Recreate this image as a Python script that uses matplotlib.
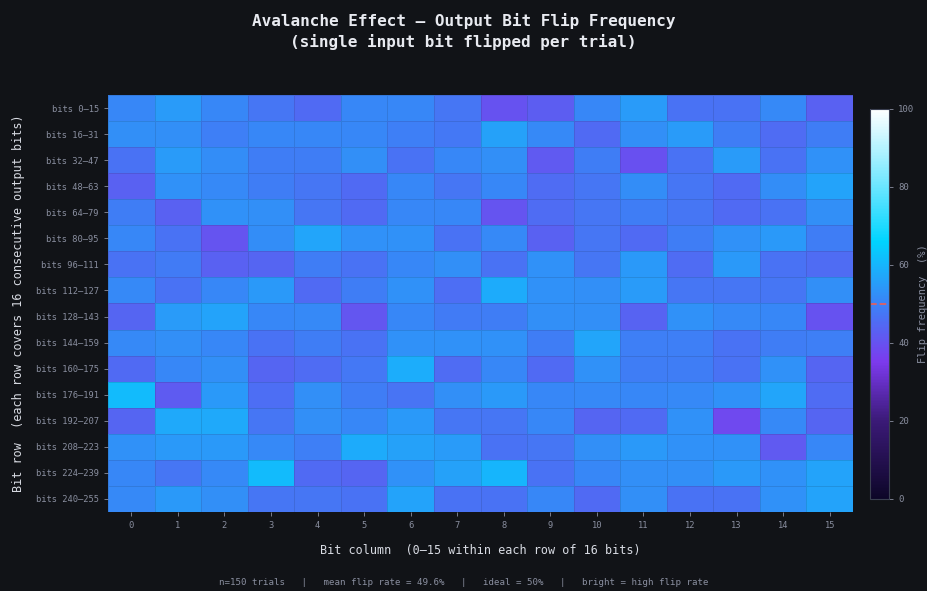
import numpy as np
import matplotlib
matplotlib.use("Agg")
import matplotlib.pyplot as plt
from matplotlib.colors import LinearSegmentedColormap

# flip frequency (%) per output bit, 16 rows x 16 columns
row_labels = [f"bits {i*16}\u2013{i*16+15}" for i in range(16)]
col_labels = [str(i) for i in range(16)]

flip_rates = [
    [51.0, 54.7, 51.0, 47.5, 45.0, 51.0, 51.0, 47.5, 40.0, 42.5, 51.0, 54.7, 46.5, 46.5, 51.5, 43.0],
    [52.7, 52.7, 49.5, 51.0, 51.0, 51.0, 49.5, 48.0, 56.0, 51.5, 45.0, 52.7, 55.0, 49.0, 45.5, 49.0],
    [46.5, 55.0, 52.0, 49.0, 49.0, 52.7, 46.5, 51.0, 52.5, 41.5, 49.0, 39.5, 46.5, 55.0, 46.5, 53.0],
    [43.0, 53.0, 51.5, 49.0, 47.5, 45.0, 51.0, 47.5, 51.0, 45.5, 47.5, 52.0, 47.5, 45.0, 52.0, 56.5],
    [49.0, 43.0, 53.0, 52.5, 47.5, 45.0, 51.0, 51.0, 40.5, 45.5, 47.5, 49.0, 47.5, 45.0, 46.5, 52.5],
    [51.0, 46.5, 40.5, 52.0, 57.0, 53.0, 53.0, 46.5, 51.5, 43.0, 47.5, 45.0, 49.0, 53.0, 54.5, 49.0],
    [46.5, 48.5, 43.0, 44.0, 49.0, 46.5, 51.0, 52.5, 46.5, 53.0, 47.5, 54.5, 45.5, 54.5, 46.5, 45.5],
    [51.5, 46.5, 51.0, 54.5, 45.0, 49.0, 53.0, 46.0, 58.0, 53.0, 52.5, 55.0, 47.5, 47.5, 47.5, 52.5],
    [44.0, 55.0, 56.5, 51.0, 51.5, 41.0, 51.0, 48.5, 49.0, 52.5, 52.5, 43.5, 53.0, 51.5, 51.0, 40.0],
    [51.5, 52.5, 51.0, 46.5, 49.0, 46.5, 53.0, 53.0, 53.0, 49.0, 57.0, 49.5, 49.5, 46.5, 49.0, 49.5],
    [45.0, 51.0, 52.5, 44.0, 45.5, 48.0, 58.5, 45.5, 51.0, 45.0, 53.0, 49.0, 49.0, 46.5, 53.0, 44.0],
    [61.0, 42.0, 54.5, 46.0, 52.5, 49.0, 47.0, 52.5, 54.5, 51.0, 51.5, 51.0, 51.5, 53.0, 57.0, 45.5],
    [44.0, 57.5, 57.5, 47.5, 52.5, 51.0, 54.5, 47.5, 47.5, 51.0, 44.0, 45.0, 53.0, 38.0, 51.5, 44.0],
    [53.0, 54.5, 54.5, 51.5, 49.5, 58.0, 56.0, 55.0, 46.5, 47.5, 52.5, 54.5, 53.0, 53.0, 41.5, 51.0],
    [51.0, 47.5, 51.5, 61.0, 45.0, 44.0, 53.0, 56.0, 60.0, 46.5, 51.0, 52.5, 52.5, 54.5, 53.0, 56.5],
    [51.5, 54.5, 52.5, 47.5, 47.5, 46.5, 56.5, 46.5, 46.5, 51.0, 45.0, 52.5, 46.5, 46.5, 53.0, 56.5],
]

n_trials = 150
ideal = 50

bg = "#111317"
txt = "#d8dbe3"
muted = "#8a8fa0"

cmap = LinearSegmentedColormap.from_list("avalanche", [
    (0.0, "#0d0628"),
    (0.2, "#3b1a78"),
    (0.35, "#7c3aed"),
    (0.5, "#3b82f6"),
    (0.66, "#00d4ff"),
    (1.0, "#ffffff"),
])

plt.rcParams["font.family"] = "DejaVu Sans Mono"

fig = plt.figure(figsize=(9.27, 5.91), dpi=100, facecolor=bg)
ax = fig.add_axes([0.1165, 0.1337, 0.8037, 0.7056])
cax = fig.add_axes([0.9385, 0.1557, 0.0205, 0.66])

data = np.array(flip_rates)
mesh = ax.pcolormesh(np.arange(17) - 0.5, np.arange(17) - 0.5, data, cmap=cmap, vmin=0, vmax=100,
                     edgecolors=(0.07, 0.08, 0.1, 0.12), linewidth=0.5)
ax.set_xlim(-0.5, 15.5)
ax.set_ylim(15.5, -0.5)

ax.set_facecolor(bg)
ax.set_xticks(range(16))
ax.set_xticklabels(col_labels)
ax.set_yticks(range(16))
ax.set_yticklabels(row_labels)
ax.tick_params(colors=muted, labelsize=6.3, length=3, width=0.6)
for s in ax.spines.values():
    s.set_visible(False)

ax.set_xlabel("Bit column  (0\u201315 within each row of 16 bits)", color=txt, fontsize=8.5, labelpad=10)
ax.set_ylabel("Bit row  (each row covers 16 consecutive output bits)", color=txt, fontsize=8.5, labelpad=8)

cb = fig.colorbar(mesh, cax=cax)
cb.set_ticks([0, 20, 40, 60, 80, 100])
cb.ax.tick_params(colors=muted, labelsize=6.5, length=3, width=0.6)
cb.outline.set_edgecolor("#3a3f50")
cb.set_label("Flip frequency  (%)", color=muted, fontsize=7.5, labelpad=3)
cax.axhline(ideal, color="#e06060", linestyle="--", linewidth=1.3)

fig.text(0.5, 0.978, "Avalanche Effect \u2014 Output Bit Flip Frequency\n(single input bit flipped per trial)",
         ha="center", va="top", color="#e8eaf0", fontsize=11.5, fontweight="bold", linespacing=1.35)

fig.text(0.5, 0.006,
         f"n={n_trials} trials   |   mean flip rate = 49.6%   |   ideal = {ideal}%   |   bright = high flip rate",
         ha="center", va="bottom", color=muted, fontsize=6.6)

fig.savefig("out.png", dpi=100, facecolor=bg)
